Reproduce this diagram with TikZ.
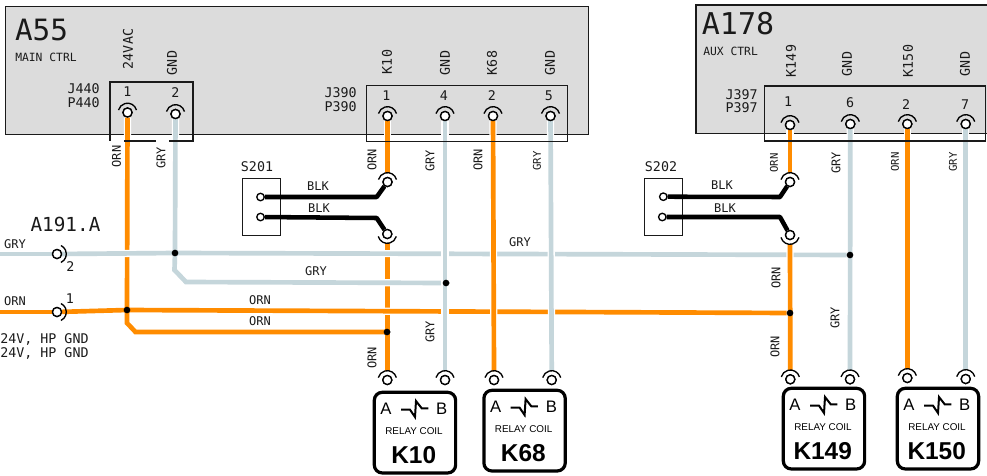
\documentclass[tikz,border=0pt]{standalone}
\usepackage{fontspec}
\setmainfont{DejaVu Sans Mono}
\newfontfamily\relayfont{Liberation Sans}
\usetikzlibrary{calc}
\definecolor{wireorn}{HTML}{FF8C00}
\definecolor{wiregry}{HTML}{C5D6DB}
\definecolor{boxgry}{HTML}{DCDCDC}
\definecolor{inkc}{HTML}{1A1A1A}
\newcommand{\fs}[1]{\fontsize{#1}{#1}\selectfont}
\tikzset{
  x=0.75pt,y=-0.75pt,
  txt/.style={inner sep=0pt,text=inkc},
  sz13/.style={txt,font=\fs{10}},
  sz12/.style={txt,font=\fs{9}},
  sz10/.style={txt,font=\fs{8}},
  up/.style={rotate=90},
  mod/.style={draw=inkc,line width=1pt,fill=boxgry,inner sep=0pt,minimum width=#1},
  conn/.style={draw=inkc,line width=1pt},
  orn/.style={draw=wireorn,line width=3.5pt},
  gry/.style={draw=wiregry,line width=3.5pt},
  blk/.style={draw=black,line width=3.4pt,line join=round},
  halo/.style={draw=white,line width=5.4pt},
  termc/.style={circle,draw=black,line width=1pt,fill=white,minimum size=6.8pt,inner sep=0pt},
  tarc/.style={draw=black,line width=1pt},
  dotj/.style={circle,fill=black,minimum size=5pt,inner sep=0pt},
  swbox/.style={draw=inkc,line width=1pt,fill=white,inner sep=0pt},
  relaybox/.style={draw=black,line width=2.4pt,rounded corners=6pt,fill=white,inner sep=0pt,minimum width=61pt,minimum height=60.5pt},
  rtxt/.style={inner sep=0pt,text=black},
}
% name, x, y
\newcommand{\Term}[3]{%
  \node[termc] (#1) at (#2,#3) {};
  \coordinate (#1t) at (#2,#3-9);
  \coordinate (#1b) at (#2,#3+9);
}
% name, left, top, label
\newcommand{\Relay}[4]{%
  \begin{scope}[shift={(#2,#3)}]
    \node[relaybox,anchor=north west] (#1) at (0,0) {};
    \node[rtxt,font=\relayfont\fs{12.5}] (#1a) at (13.3,17.6) {A};
    \node[rtxt,font=\relayfont\fs{12.5}] (#1c) at (69,17.6) {B};
    \draw[black,line width=1.5pt,line join=miter] (28.3,19) -- (37.3,19) -- (42.3,26.3) -- (43.3,10.3) -- (49,17.6) -- (55.6,17.6);
    \node[rtxt,font=\relayfont\fs{7.4}] (#1r) at (41.3,40.3) {RELAY COIL};
    \node[rtxt,font=\relayfont\bfseries\fs{18.3}] (#1k) at (41.0,64.3) {#4};
  \end{scope}
}
\begin{document}
\begin{tikzpicture}
\useasboundingbox (0,0) rectangle (987,475);
% modules
\node[mod=437.25pt,minimum height=96pt,anchor=north west] (a55) at (5,6) {};
\node[fill=boxgry,inner sep=0pt,minimum width=218.25pt,minimum height=96pt,anchor=north west] (a178) at (696,5) {};
\draw[conn] (a178.north east) -- (a178.north west) -- (a178.south west) -- (a178.south east);

% terminals (coordinates first)
\Term{ta}{127.5}{112.5}
\Term{tb}{175.5}{114}
\Term{tc}{387.5}{116}
\Term{td}{445}{116}
\Term{te}{493}{116}
\Term{tf}{550.5}{116}
\Term{tg}{790}{125}
\Term{th}{850.3}{124}
\Term{ti}{907.3}{124}
\Term{tj}{965.7}{124}
\Term{sa}{387.5}{182}
\Term{sb}{387.3}{234}
\Term{sc}{790}{182}
\Term{sd}{790}{235}
\Term{la}{57}{254}
\Term{lb}{57}{312}
\Term{ka}{387.3}{380}
\Term{kb}{445}{380}
\Term{kc}{494}{380}
\Term{kd}{551.7}{380}
\Term{ke}{790.3}{379.3}
\Term{kf}{850}{379.3}
\Term{kg}{907.3}{378}
\Term{kh}{965.7}{379}

% free ends, bends and junctions
\coordinate (ge) at (0,254);
\coordinate (oe) at (0,312);
\coordinate (o1) at (127,323);
\coordinate (o2) at (135.5,332);
\coordinate (g1) at (174.5,270);
\coordinate (g2) at (186,282);
\coordinate (b1) at (376.7,197);
\coordinate (b2) at (376.7,218);
\coordinate (b3) at (780,197);
\coordinate (b4) at (780,217);
\coordinate (h1) at (127.3,240);
\node[dotj] (ja) at (175,253) {};
\node[dotj] (jb) at (127,310) {};
\node[dotj] (jc) at (446,283) {};
\node[dotj] (jd) at (387,332) {};
\node[dotj] (je) at (790,313) {};
\node[dotj] (jf) at (850,255) {};
\coordinate (sbw) at (387.3,243);
\coordinate (sdw) at (790,244);

% switches
\node[swbox,minimum width=28.8pt,minimum height=42.75pt,anchor=north west] (s201) at (241.7,178) {};
\node[swbox,minimum width=28.3pt,minimum height=42.75pt,anchor=north west] (s202) at (644,178) {};
\node[termc,minimum size=5.6pt] (pa) at (260.5,197) {};
\node[termc,minimum size=5.6pt] (pb) at (260.5,217) {};
\node[termc,minimum size=5.6pt] (pc) at (663.3,196.7) {};
\node[termc,minimum size=5.6pt] (pd) at (662.3,217) {};
\draw[blk] (pa) -- (b1) -- (sa);
\draw[blk] (pb) -- (b2) -- (sb);
\draw[blk] (pc) -- (b3) -- (sc);
\draw[blk] (pd) -- (b4) -- (sd);

% wires, bottom layer first
\draw[orn] (sbw) -- (kat);
\draw[halo] (ta) -- (h1);
\draw[halo] (oe) -- (lb) -- (jb.center) -- (je.center);
\draw[orn] (oe) -- (lb);
\draw[orn] (lb) -- (jb.center) -- (je.center);
\draw[orn] (ta) -- (jb.center) -- (o1) -- (o2) -- (jd.center);
\draw[halo] (ge) -- (la) (la) -- (ja.center) -- (jf.center);
\draw[halo] (tb) -- (ja.center) -- (g1) -- (g2) -- (jc.center);
\draw[gry] (ge) -- (la);
\draw[gry] (la) -- (ja.center) -- (jf.center);
\draw[gry] (tb) -- (ja.center) -- (g1) -- (g2) -- (jc.center);
\draw[halo] (th) -- (kft);
\draw[gry] (th) -- (kft);
\draw[halo] (td) -- (kbt);
\draw[gry] (td) -- (kbt);
\draw[halo] (te) -- (kct);
\draw[orn] (te) -- (kct);
\draw[halo] (tf) -- (kdt);
\draw[gry] (tf) -- (kdt);
\draw[halo] (tg) -- (sct);
\draw[orn] (tg) -- (sct);
\draw[halo] (sdw) -- (ket);
\draw[orn] (sdw) -- (ket);
\draw[halo] (ti) -- (kgt);
\draw[orn] (ti) -- (kgt);
\draw[halo] (tj) -- (kht);
\draw[gry] (tj) -- (kht);
\draw[halo] (tc) -- (sat);
\draw[orn] (tc) -- (sat);

% terminals and their arcs, junction dots on top
\foreach \n/\s/\e in {ta/15/165,tb/15/165,tc/15/165,td/15/165,te/15/165,tf/15/165,tg/15/165,th/15/165,ti/15/165,tj/15/165,sa/15/165,sb/195/345,sc/15/165,sd/195/345,la/-65/65,lb/-65/65,ka/15/165,kb/15/165,kc/15/165,kd/15/165,ke/15/165,kf/15/165,kg/15/165,kh/15/165}{
  \node[termc] at (\n.center) {};
  \draw[tarc] (\n.center) ++(\s:7pt) arc[start angle=\s,end angle=\e,radius=7pt];
}
\foreach \n in {ja,jb,jc,jd,je,jf} \node[dotj] at (\n.center) {};

% connector housings
\draw[conn] (124,141) -- (156,141);
\draw[conn] (169,141) -- (193,141) -- (193,82) -- (110,82) -- (110,141);
\node[conn,draw,inner sep=0pt,minimum width=150.75pt,minimum height=42pt,anchor=north west] (j390) at (366,85) {};
\node[conn,draw,inner sep=0pt,minimum width=165.75pt,minimum height=41.25pt,anchor=north west] (j397) at (764,85.3) {};

% relays
\Relay{k10}{372.7}{390.7}{K10}
\Relay{k68}{482.3}{388.7}{K68}
\Relay{k149}{781.7}{386.7}{K149}
\Relay{k150}{895.7}{386.7}{K150}

% module text
\node[txt,font=\fs{22}] (n1) at (41.5,30.5) {A55};
\node[txt,font=\fs{22.5}] (n2) at (738,24) {A178};
\node[txt,font=\fs{8.5},anchor=west] (n3) at (15,57) {MAIN CTRL};
\node[txt,font=\fs{8.5},anchor=west] (n4) at (703,51) {AUX CTRL};
\node[txt,font=\fs{14.5}] (n5) at (65.5,224) {A191.A};
\node[sz13,up] (p1) at (128,49) {24VAC};
\node[sz13,up] (p2) at (172,63) {GND};
\node[sz13,up] (p3) at (387,62) {K10};
\node[sz13,up] (p4) at (445,63) {GND};
\node[sz13,up] (p5) at (492,63) {K68};
\node[sz13,up] (p6) at (550,63) {GND};
\node[sz13,up] (p7) at (791,61) {K149};
\node[sz13,up] (p8) at (847,64) {GND};
\node[sz13,up] (p9) at (908,61) {K150};
\node[sz13,up] (p10) at (965,64) {GND};
\node[sz13,anchor=east] (c1) at (100,89) {J440};
\node[sz13,anchor=east] (c2) at (100,103) {P440};
\node[sz13,anchor=east] (c3) at (357,93) {J390};
\node[sz13,anchor=east] (c4) at (357,107) {P390};
\node[sz13,anchor=east] (c5) at (758,95) {J397};
\node[sz13,anchor=east] (c6) at (758,108) {P397};
\node[sz13] (d1) at (127.5,91.5) {1};
\node[sz13] (d2) at (175.5,92.5) {2};
\node[sz13] (d3) at (386.5,96) {1};
\node[sz13] (d4) at (444,96) {4};
\node[sz13] (d5) at (492,96) {2};
\node[sz13] (d6) at (549,96) {5};
\node[sz13] (d7) at (788,101.5) {1};
\node[sz13] (d8) at (850,102.5) {6};
\node[sz13] (d9) at (906,104.5) {2};
\node[sz13] (d10) at (965,104.5) {7};
\node[sz13] (d11) at (70.5,267) {2};
\node[sz13] (d12) at (70,299) {1};
\node[sz13] (s1) at (257,167) {S201};
\node[sz13] (s2) at (661,167) {S202};
\node[sz13,anchor=base west] (h24a) at (0,343.5) {24V, HP GND};
\node[sz13,anchor=base west] (h24b) at (0,357.5) {24V, HP GND};

% wire labels
\node[sz12] (w1) at (15,244) {GRY};
\node[sz12] (w2) at (15,301) {ORN};
\node[sz12] (w3) at (260,300) {ORN};
\node[sz12] (w4) at (260,321) {ORN};
\node[sz12] (w5) at (316,271) {GRY};
\node[sz12] (w6) at (520,242) {GRY};
\node[sz12] (w7) at (318,186) {BLK};
\node[sz12] (w8) at (319,208) {BLK};
\node[sz12] (w9) at (722,185) {BLK};
\node[sz12] (w10) at (725,208) {BLK};
\node[sz12,up] (v1) at (116.5,156.5) {ORN};
\node[sz12,up] (v2) at (161,158) {GRY};
\node[sz12,up] (v3) at (372,160) {ORN};
\node[sz12,up] (v4) at (430,161) {GRY};
\node[sz12,up] (v5) at (478,160) {ORN};
\node[sz10,up] (v6) at (537,161) {GRY};
\node[sz12,up] (v7) at (372,358) {ORN};
\node[sz12,up] (v8) at (430,332) {GRY};
\node[sz10,up] (v9) at (774,163) {ORN};
\node[sz12,up] (v10) at (836,163) {GRY};
\node[sz10,up] (v11) at (895,162) {ORN};
\node[sz10,up] (v12) at (953,162) {GRY};
\node[sz12,up] (v13) at (776,278) {ORN};
\node[sz12,up] (v14) at (835,318) {GRY};
\node[sz12,up] (v15) at (775,347) {ORN};
\end{tikzpicture}
\end{document}
